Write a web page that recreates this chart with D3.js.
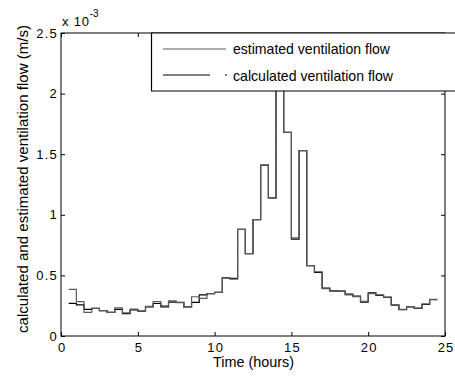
<!DOCTYPE html>
<html>
<head>
<meta charset="utf-8">
<script src="https://cdn.jsdelivr.net/npm/d3@7"></script>
<style>
  body { margin: 0; background: #fff; overflow: hidden; }
  svg { font-family: "Liberation Sans", Arial, sans-serif; display: block; }
</style>
</head>
<body>
<script>
// Step series, values in units of 1e-3 m/s, each value holds from its hour to the next half hour
var hours = [0.5, 1, 1.5, 2, 2.5, 3, 3.5, 4, 4.5, 5, 5.5, 6, 6.5, 7, 7.5, 8, 8.5, 9, 9.5, 10,
    10.5, 11, 11.5, 12, 12.5, 13, 13.5, 14, 14.5, 15, 15.5, 16, 16.5, 17, 17.5, 18, 18.5, 19, 19.5, 20,
    20.5, 21, 21.5, 22, 22.5, 23, 23.5, 24];
var endHour = 24.5;

var estimated = [0.385, 0.283, 0.195, 0.228, 0.21, 0.195, 0.232, 0.19, 0.222, 0.205, 0.245, 0.283, 0.248, 0.29, 0.275, 0.24, 0.324, 0.31, 0.35, 0.36,
    0.48, 0.47, 0.88, 0.68, 0.96, 1.41, 1.14, 2.35, 1.68, 0.81, 1.53, 0.58, 0.53, 0.39, 0.37, 0.37, 0.34, 0.325, 0.285, 0.35,
    0.34, 0.32, 0.256, 0.22, 0.243, 0.23, 0.265, 0.303];

var calculated = [0.27, 0.256, 0.22, 0.228, 0.21, 0.195, 0.22, 0.185, 0.215, 0.205, 0.24, 0.268, 0.24, 0.28, 0.278, 0.24, 0.277, 0.34, 0.35, 0.36,
    0.48, 0.475, 0.88, 0.68, 0.96, 1.41, 1.14, 2.35, 1.68, 0.8, 1.53, 0.58, 0.525, 0.395, 0.372, 0.37, 0.345, 0.33, 0.28, 0.355,
    0.335, 0.318, 0.255, 0.218, 0.24, 0.228, 0.26, 0.3];

var xTicks = [0, 5, 10, 15, 20, 25];
var yTicks = [0, 0.5, 1, 1.5, 2, 2.5];
var legendLabels = ["estimated ventilation flow", "calculated ventilation flow"];

const width = 455, height = 379;
var padding = {top: 33, right: 10, bottom: 43, left: 61};
var x0 = padding.left, x1 = width - padding.right;
var y0 = height - padding.bottom, y1 = padding.top;

var svg = d3.select("body").append("svg")
    .attr("width", width)
    .attr("height", height);

var xScale = d3.scaleLinear().domain([0, 25]).range([x0, x1]);
var yScale = d3.scaleLinear().domain([0, 2.5]).range([y0, y1]);

svg.append("clipPath").attr("id", "plotClip")
    .append("rect").attr("x", x0).attr("y", y1).attr("width", x1 - x0).attr("height", y0 - y1);

// Build step points (last value extended to the end hour)
function stepPoints(values) {
    var pts = hours.map((h, i) => [h, values[i]]);
    pts.push([endHour, values[values.length - 1]]);
    return pts;
}

var line = d3.line()
    .x(d => xScale(d[0]))
    .y(d => yScale(d[1]))
    .curve(d3.curveStepAfter);

var plot = svg.append("g").attr("clip-path", "url(#plotClip)");

plot.append("path")
    .datum(stepPoints(calculated))
    .attr("fill", "none")
    .attr("stroke", "#000")
    .attr("stroke-width", 1.2)
    .attr("d", line);

plot.append("path")
    .datum(stepPoints(estimated))
    .attr("fill", "none")
    .attr("stroke", "#5a5a5a")
    .attr("stroke-width", 1.2)
    .attr("d", line);

// Axes: bottom/left with labels, top/right ticks only, all ticks inside
var tickLen = 4;
var axisBottom = svg.append("g")
    .attr("transform", "translate(0," + y0 + ")")
    .call(d3.axisBottom(xScale).tickValues(xTicks).tickSizeInner(-tickLen).tickSizeOuter(0).tickPadding(7).tickFormat(d3.format("d")));
var axisTop = svg.append("g")
    .attr("transform", "translate(0," + y1 + ")")
    .call(d3.axisTop(xScale).tickValues(xTicks).tickSizeInner(-tickLen).tickSizeOuter(0).tickFormat(""));
var axisLeft = svg.append("g")
    .attr("transform", "translate(" + x0 + ",0)")
    .call(d3.axisLeft(yScale).tickValues(yTicks).tickSizeInner(-tickLen).tickSizeOuter(0).tickPadding(3).tickFormat(d => String(d)));
var axisRight = svg.append("g")
    .attr("transform", "translate(" + x1 + ",0)")
    .call(d3.axisRight(yScale).tickValues(yTicks).tickSizeInner(-tickLen).tickSizeOuter(0).tickFormat(""));

[axisBottom, axisTop, axisLeft, axisRight].forEach(g => {
    g.select(".domain").remove();
    g.selectAll("line").attr("stroke", "#000");
    g.selectAll("text").attr("font-size", 13).attr("fill", "#000")
        .attr("letter-spacing", 1.2)
        .attr("font-family", "'Liberation Sans', Arial, sans-serif");
});
// letter-spacing adds trailing space; recentre bottom labels
axisBottom.selectAll("text").attr("dx", 0.6);

// Box
svg.append("rect")
    .attr("x", x0).attr("y", y1)
    .attr("width", x1 - x0).attr("height", y0 - y1)
    .attr("fill", "none").attr("stroke", "#000").attr("stroke-width", 1);

// Exponent label
var expo = svg.append("text")
    .attr("x", x0 + 1).attr("y", 26)
    .attr("font-size", 13);
expo.append("tspan").attr("letter-spacing", 0.8).text("x 10");
expo.append("tspan").attr("dy", -9).attr("font-size", 10).text("-3");

// Legend (opaque box running off the right edge, so only three sides drawn)
var legend = svg.append("g");
var lgLeft = 151.5, lgTop = 33, lgBottom = 91;
legend.append("rect")
    .attr("x", lgLeft).attr("y", lgTop)
    .attr("width", width - lgLeft).attr("height", lgBottom - lgTop)
    .attr("fill", "#fff");
legend.append("path")
    .attr("d", "M" + width + "," + lgTop + "H" + lgLeft + "V" + lgBottom + "H" + width)
    .attr("fill", "none").attr("stroke", "#000").attr("stroke-width", 1.2);
legend.append("line")
    .attr("x1", 163).attr("x2", 226).attr("y1", 49).attr("y2", 49)
    .attr("stroke", "#5a5a5a").attr("stroke-width", 1.2);
legend.append("line")
    .attr("x1", 163).attr("x2", 227).attr("y1", 75).attr("y2", 75)
    .attr("stroke", "#000").attr("stroke-width", 1.2)
    .attr("stroke-dasharray", "47,15,2");
var legendWidths = [157, 160];
legend.selectAll(".legText")
    .data(legendLabels)
    .enter().append("text")
    .attr("class", "legText")
    .attr("x", 233)
    .attr("y", (d, i) => 53.5 + i * 27)
    .attr("font-size", 14.5)
    .attr("textLength", (d, i) => legendWidths[i])
    .attr("lengthAdjust", "spacingAndGlyphs")
    .text(d => d);

// Axis labels
svg.append("text")
    .attr("x", 253.5)
    .attr("y", 367)
    .attr("text-anchor", "middle")
    .attr("font-size", 14.5)
    .attr("textLength", 81)
    .attr("lengthAdjust", "spacingAndGlyphs")
    .text("Time (hours)");

svg.append("text")
    .attr("transform", "rotate(-90)")
    .attr("x", -179)
    .attr("y", 28)
    .attr("text-anchor", "middle")
    .attr("font-size", 14.5)
    .attr("textLength", 308)
    .attr("lengthAdjust", "spacingAndGlyphs")
    .text("calculated and estimated ventilation flow (m/s)");
</script>
</body>
</html>
